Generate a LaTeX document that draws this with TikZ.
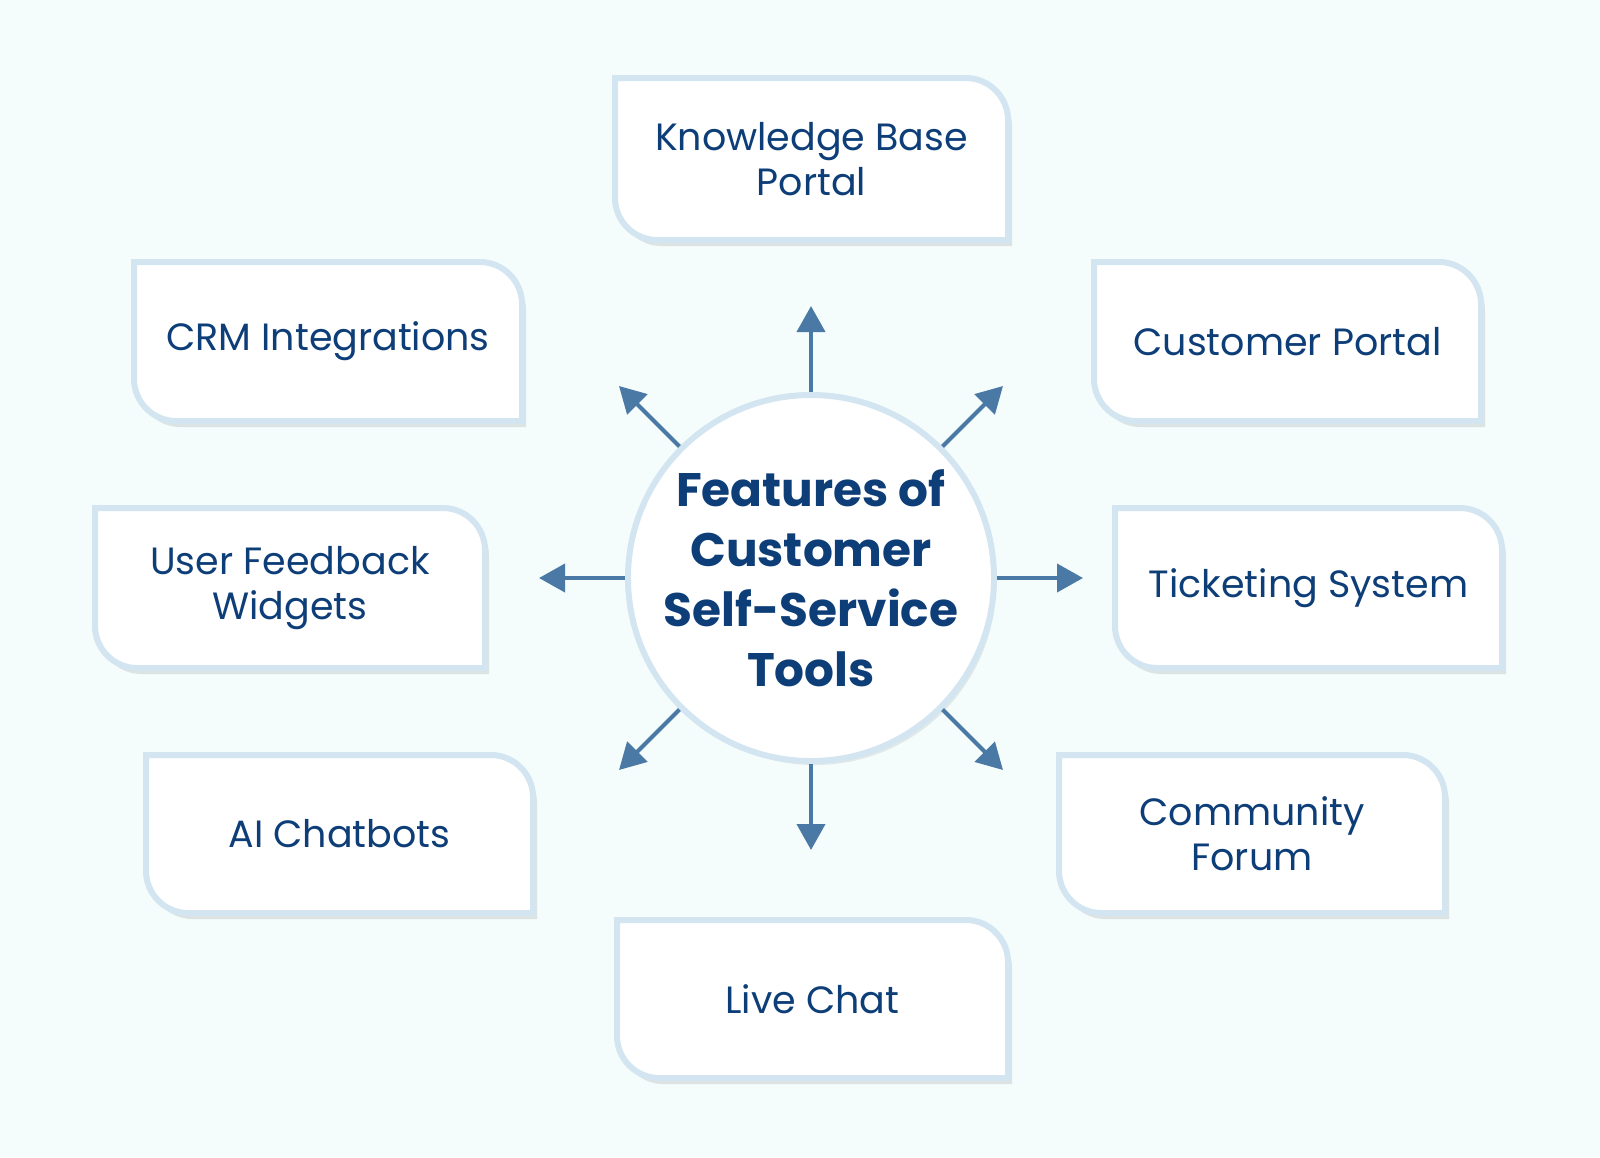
\documentclass[tikz,border=0pt]{standalone}
\usepackage{fontspec}
\setmainfont{Poppins}
\usetikzlibrary{arrows.meta,calc}
\definecolor{bg}{HTML}{F4FDFC}
\definecolor{bord}{HTML}{D3E5F0}
\definecolor{txt}{HTML}{0E3E78}
\definecolor{arr}{HTML}{4B79A5}
\newcommand{\featbox}[6]{%
  \fill[black!40,opacity=.25,shift={(4,6)}] (#2,#3) -- ($(#4,#3)+(-42,0)$) .. controls ($(#4,#3)+(-19,0)$) and ($(#4,#3)+(0,19)$) .. ($(#4,#3)+(0,42)$) -- (#4,#5) -- ($(#2,#5)+(42,0)$) .. controls ($(#2,#5)+(19,0)$) and ($(#2,#5)+(0,-19)$) .. ($(#2,#5)+(0,-42)$) -- cycle;
  \draw[boxs] (#2,#3) -- ($(#4,#3)+(-42,0)$) .. controls ($(#4,#3)+(-19,0)$) and ($(#4,#3)+(0,19)$) .. ($(#4,#3)+(0,42)$) -- (#4,#5) -- ($(#2,#5)+(42,0)$) .. controls ($(#2,#5)+(19,0)$) and ($(#2,#5)+(0,-19)$) .. ($(#2,#5)+(0,-42)$) -- cycle;
  \node[lab] (#1) at ($(#2,#3)!0.5!(#4,#5)$) {#6};}
\begin{document}
\begin{tikzpicture}[x=1pt,y=-1pt,
  boxs/.style={fill=white,draw=bord,line width=6pt},
  lab/.style={text=txt,font=\fontsize{38}{45}\selectfont,align=center},
  ar/.style={draw=arr,line width=4pt,-{Triangle[width=28pt,length=26pt]}}]
\fill[bg] (0,0) rectangle (1600,1157);
\useasboundingbox (0,0) rectangle (1600,1157);
\featbox{kb}{615}{78}{1008}{240}{Knowledge Base\\Portal}
\featbox{crm}{134}{262}{522}{421}{CRM Integrations}
\featbox{cp}{1094}{262}{1481}{421}{Customer Portal}
\featbox{uf}{95}{508}{485}{668}{User Feedback\\Widgets}
\featbox{ts}{1115}{508}{1502}{668}{Ticketing System}
\featbox{ai}{146}{755}{533}{913}{AI Chatbots}
\featbox{cf}{1059}{755}{1445}{913}{Community\\Forum}
\featbox{lc}{617}{920}{1008}{1078}{Live Chat}
\fill[black!40,opacity=.2] (815,584) circle (181);
\node[circle,fill=white,draw=bord,line width=6pt,minimum size=356pt,inner sep=0pt,
  text=txt,align=center,font=\bfseries\fontsize{47}{60}\selectfont] (c) at (811,578)
  {Features of\\Customer\\Self-Service\\Tools};
\coordinate (tn) at (811,306);
\coordinate (ts2) at (811,850);
\coordinate (tw) at (539,578);
\coordinate (te) at (1083,578);
\coordinate (tnw) at (619,386);
\coordinate (tne) at (1003,386);
\coordinate (tsw) at (619,770);
\coordinate (tse) at (1003,770);
\draw[ar] (c.north) -- (tn);
\draw[ar] (c.south) -- (ts2);
\draw[ar] (c.west) -- (tw);
\draw[ar] (c.east) -- (te);
\draw[ar] (c.north west) -- (tnw);
\draw[ar] (c.north east) -- (tne);
\draw[ar] (c.south west) -- (tsw);
\draw[ar] (c.south east) -- (tse);
\end{tikzpicture}
\end{document}
